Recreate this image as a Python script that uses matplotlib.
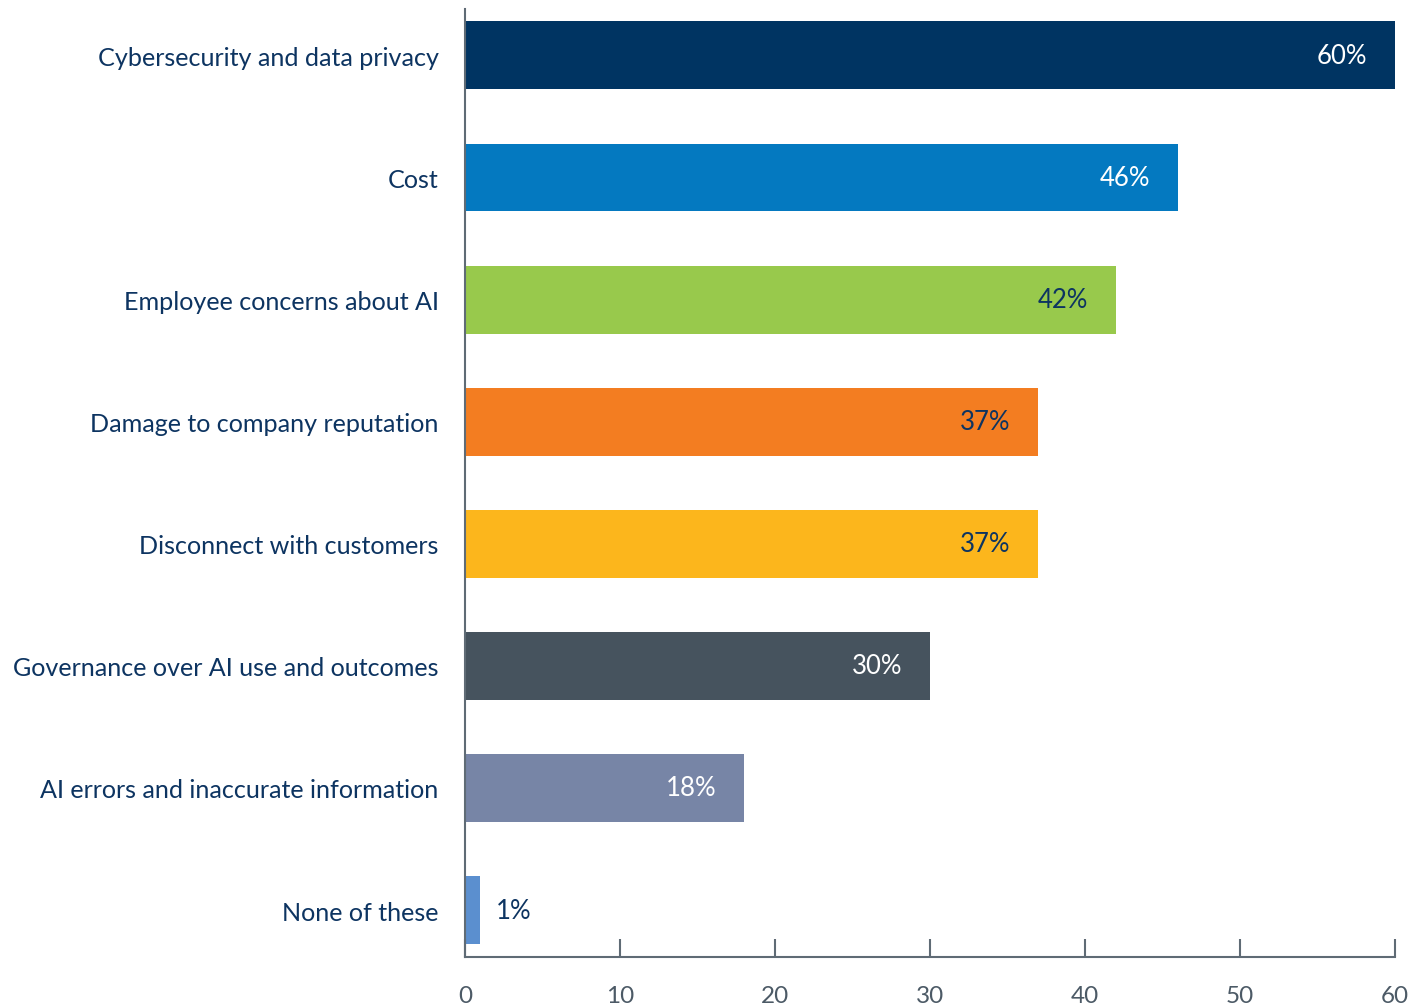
import matplotlib.pyplot as plt

# Данные опроса: доля ответов по каждой категории (%)
categories = [
    'Cybersecurity and data privacy',
    'Cost',
    'Employee concerns about AI',
    'Damage to company reputation',
    'Disconnect with customers',
    'Governance over AI use and outcomes',
    'AI errors and inaccurate information',
    'None of these',
]
values = [60, 46, 42, 37, 37, 30, 18, 1]
bar_colors = ['#003462', '#0479c0', '#98c94c', '#f37d21',
              '#fcb61c', '#46535e', '#7785a6', '#5b8fcf']
label_colors = ['white', 'white', '#0d3461', '#0d3461',
                '#0d3461', 'white', 'white', '#0d3461']
x_ticks = [0, 10, 20, 30, 40, 50, 60]

plt.rcParams['font.family'] = ['Lato', 'DejaVu Sans']

fig = plt.figure(figsize=(14.24, 10.04), dpi=100)
ax = fig.add_axes([0.3265, 0.0458, 0.6531, 0.9442])

n = len(categories)
ypos = list(range(n - 1, -1, -1))
ax.barh(ypos, values, height=0.556, color=bar_colors)

# Подписи значений: внутри полосы, у маленьких — снаружи
for y, v, c in zip(ypos, values, label_colors):
    if v < 5:
        ax.text(v + 1, y, f'{v}%', ha='left', va='center', fontsize=18.5, color=c)
    else:
        ax.text(v - 1.8, y, f'{v}%', ha='right', va='center', fontsize=18.5, color=c)

ax.set_xlim(0, 60)
ax.set_ylim(-0.385, n - 1 + 0.38)
ax.set_yticks(ypos)
ax.set_yticklabels(categories, fontsize=18.1, color='#0d3461')
ax.set_xticks(x_ticks)
ax.set_xticklabels([str(t) for t in x_ticks], fontsize=17.5, color='#4c5a66')

ax.tick_params(axis='y', length=0, pad=19)
ax.tick_params(axis='x', direction='in', length=13, width=1.5,
               color='#5f6b75', pad=20)

for side in ['top', 'right']:
    ax.spines[side].set_visible(False)
for side in ['left', 'bottom']:
    ax.spines[side].set_color('#5f6b75')
    ax.spines[side].set_linewidth(1.5)

plt.savefig('out.png', dpi=100)
